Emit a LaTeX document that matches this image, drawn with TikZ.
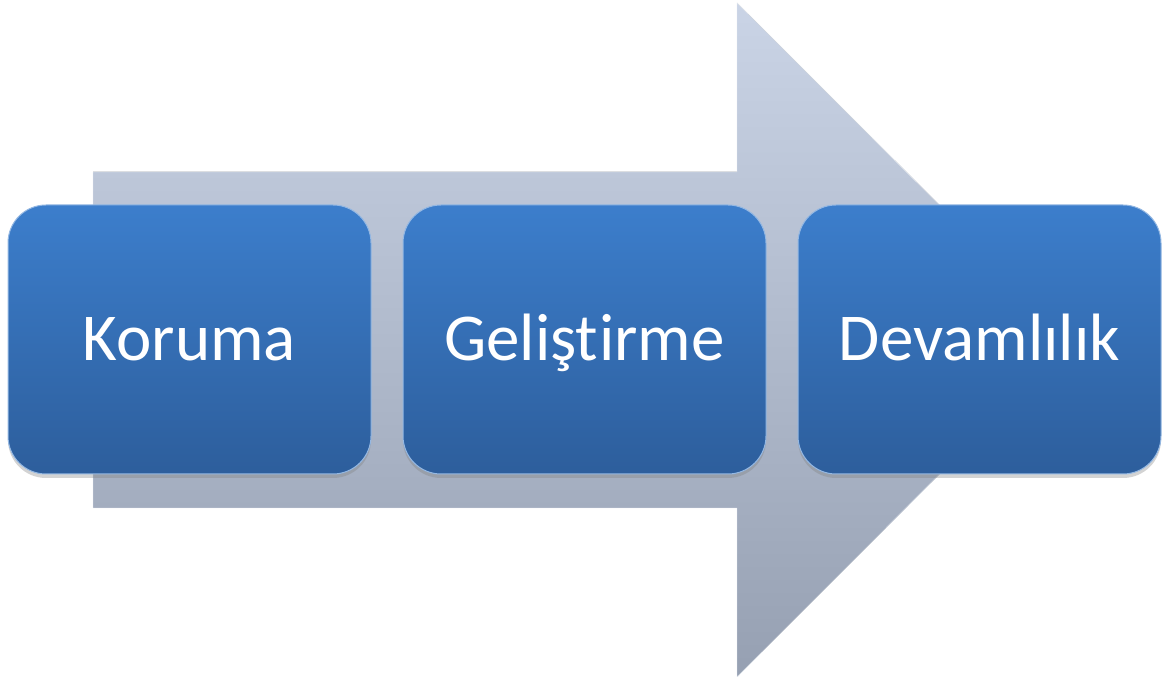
\documentclass[tikz,border=0pt]{standalone}
\usepackage{fontspec}
\setmainfont{Carlito}
\usetikzlibrary{positioning}
\usetikzlibrary{shadows}
\definecolor{boxtop}{RGB}{60,126,204}
\definecolor{boxbot}{RGB}{45,94,156}
\definecolor{arrtop}{RGB}{202,212,230}
\definecolor{arrbot}{RGB}{150,160,178}

\tikzset{stage/.style={rounded corners=38pt, minimum width=363pt, minimum height=269pt,
  inner sep=0pt, text height=43pt, text depth=0pt,
  top color=boxtop, bottom color=boxbot, draw=boxtop!55!white, line width=1pt,
  text=white, font=\fontsize{67}{80}\selectfont,
  drop shadow={opacity=0.35, shadow xshift=0pt, shadow yshift=-4pt}}}

\begin{document}
\begin{tikzpicture}[x=1pt,y=1pt]
\useasboundingbox (0,0) rectangle (1168,677);
\def\H{337.5}
\def\gap{31pt}

%Arrow behind:
\fill[top color=arrtop, bottom color=arrbot, draw=arrtop!50!white]
  (93,169) -- (93,505) -- (737,505) -- (737,674) -- (1074,\H) -- (737,0) -- (737,169) -- cycle;

%Stages:
\node[stage] (kor) at (189.5,\H) {Koruma};
\node[stage, right=\gap of kor] (gel) {Gelişt\kern1pt irme};
\node[stage, right=\gap of gel] (dev) {Devamlılık};

\end{tikzpicture}
\end{document}
